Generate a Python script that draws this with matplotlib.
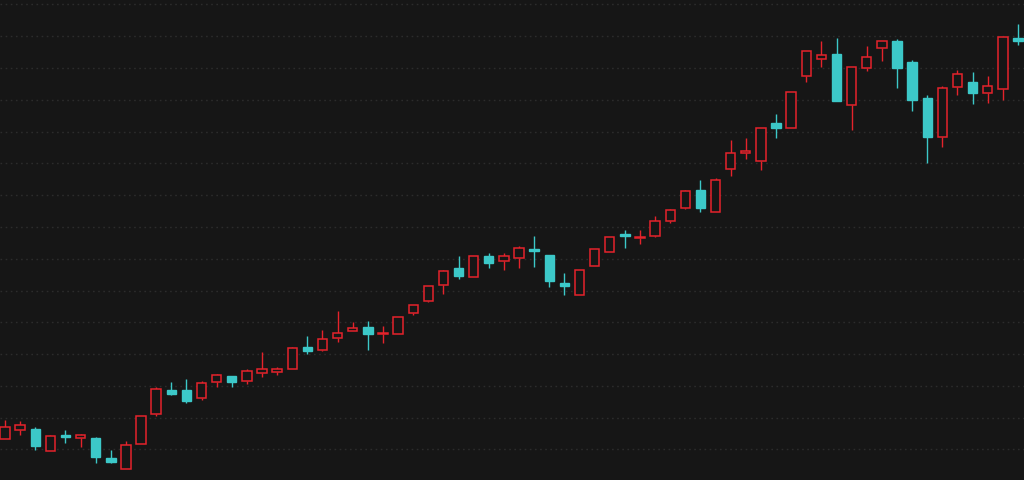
import matplotlib
matplotlib.use("Agg")
import matplotlib.pyplot as plt
from matplotlib.patches import Rectangle

opens = [103.3, 106.1, 106.4, 99.5, 104.6, 103.6, 103.6, 97.3, 93.9, 101.7,
         111.2, 118.7, 118.7, 116.2, 121.2, 123.1, 121.5, 124.2, 124.5, 125.3,
         132.2, 131.3, 135.2, 137.4, 138.6, 136.3, 136.4, 142.9, 146.8, 151.6,
         157.0, 154.3, 160.9, 159.2, 160.1, 163.0, 161.3, 152.5, 148.5, 157.6,
         162.2, 167.8, 166.4, 167.2, 172.0, 176.1, 181.5, 174.7, 188.1, 193.2,
         190.8, 202.6, 201.0, 217.5, 222.9, 224.4, 208.3, 219.9, 226.2, 228.4,
         221.9, 210.5, 198.2, 214.0, 215.6, 212.0, 213.3, 229.5]
highs = [109.3, 109.0, 107.1, 104.6, 106.1, 104.9, 103.9, 99.8, 102.7, 110.5,
         119.7, 121.2, 122.2, 121.5, 123.7, 123.1, 125.3, 130.7, 126.0, 132.2,
         135.7, 137.6, 143.6, 140.1, 140.4, 138.9, 141.7, 145.6, 151.5, 156.5,
         160.9, 160.9, 161.8, 161.8, 163.9, 167.2, 161.3, 155.5, 156.4, 163.0,
         166.8, 168.9, 168.9, 173.4, 175.6, 181.6, 184.8, 185.3, 197.3, 197.9,
         201.1, 205.5, 212.4, 225.5, 228.4, 229.5, 220.2, 227.0, 228.4, 229.2,
         222.5, 211.4, 214.2, 219.4, 218.7, 217.4, 229.6, 233.8]
lows = [103.3, 104.6, 99.8, 99.5, 102.0, 100.8, 95.8, 95.8, 93.9, 101.7,
        110.5, 117.1, 114.6, 115.6, 119.7, 119.7, 120.6, 122.8, 123.4, 125.3,
        130.0, 130.9, 133.8, 137.4, 131.3, 133.6, 136.4, 142.4, 146.5, 148.8,
        153.6, 154.3, 157.2, 156.5, 157.1, 157.5, 151.1, 148.5, 148.5, 157.6,
        162.2, 163.5, 164.7, 166.7, 171.2, 175.5, 174.8, 174.7, 186.0, 191.4,
        188.0, 198.1, 201.0, 215.7, 220.2, 209.7, 200.4, 219.1, 222.3, 213.7,
        206.5, 190.1, 195.2, 211.6, 208.6, 208.9, 210.0, 227.3]
closes = [107.1, 107.7, 101.1, 104.2, 103.8, 104.6, 97.6, 96.2, 101.4, 110.5,
          119.0, 117.4, 115.3, 120.9, 123.4, 121.2, 124.7, 125.2, 125.3, 131.9,
          130.9, 134.7, 136.6, 138.3, 136.3, 136.5, 141.7, 145.3, 151.5, 156.0,
          154.5, 160.9, 158.7, 160.9, 163.5, 162.5, 153.1, 151.4, 156.4, 163.0,
          166.8, 167.2, 166.8, 172.0, 175.3, 181.2, 176.1, 184.7, 193.2, 193.8,
          201.1, 201.0, 212.4, 225.2, 224.1, 209.7, 220.2, 223.5, 228.4, 219.9,
          210.0, 198.4, 213.6, 218.1, 212.2, 214.3, 229.6, 228.4]

bg = "#161616"
up_color = "#e5232b"
down_color = "#3cc8c8"

fig = plt.figure(figsize=(10.24, 4.81), dpi=100, facecolor=bg)
ax = fig.add_axes([0, 0, 1, 1])
ax.set_facecolor(bg)

w = 0.62
for i in range(len(opens)):
    o, h, l, c = opens[i], highs[i], lows[i], closes[i]
    top, bot = max(o, c), min(o, c)
    if c >= o:
        col = up_color
        ax.vlines(i, top, h, color=col, lw=1, zorder=2)
        ax.vlines(i, l, bot, color=col, lw=1, zorder=2)
        ax.add_patch(Rectangle((i - w / 2, bot), w, max(top - bot, 0.15),
                               facecolor=bg, edgecolor=col, lw=1.1, zorder=3))
    else:
        col = down_color
        ax.vlines(i, l, h, color=col, lw=1, zorder=2)
        ax.add_patch(Rectangle((i - w / 2, bot), w, max(top - bot, 0.15),
                               facecolor=col, edgecolor=col, lw=1, zorder=3))

ax.set_xlim(-0.33, 67.4)
ax.set_ylim(90.4, 241.7)
ax.set_yticks(range(100, 241, 10))
ax.grid(axis="y", color="#2c2c2c", linestyle=(0, (1.2, 2.5)), lw=1)
ax.tick_params(left=False, bottom=False, labelleft=False, labelbottom=False)
for s in ax.spines.values():
    s.set_visible(False)

fig.savefig("out.png", dpi=100, facecolor=bg)
